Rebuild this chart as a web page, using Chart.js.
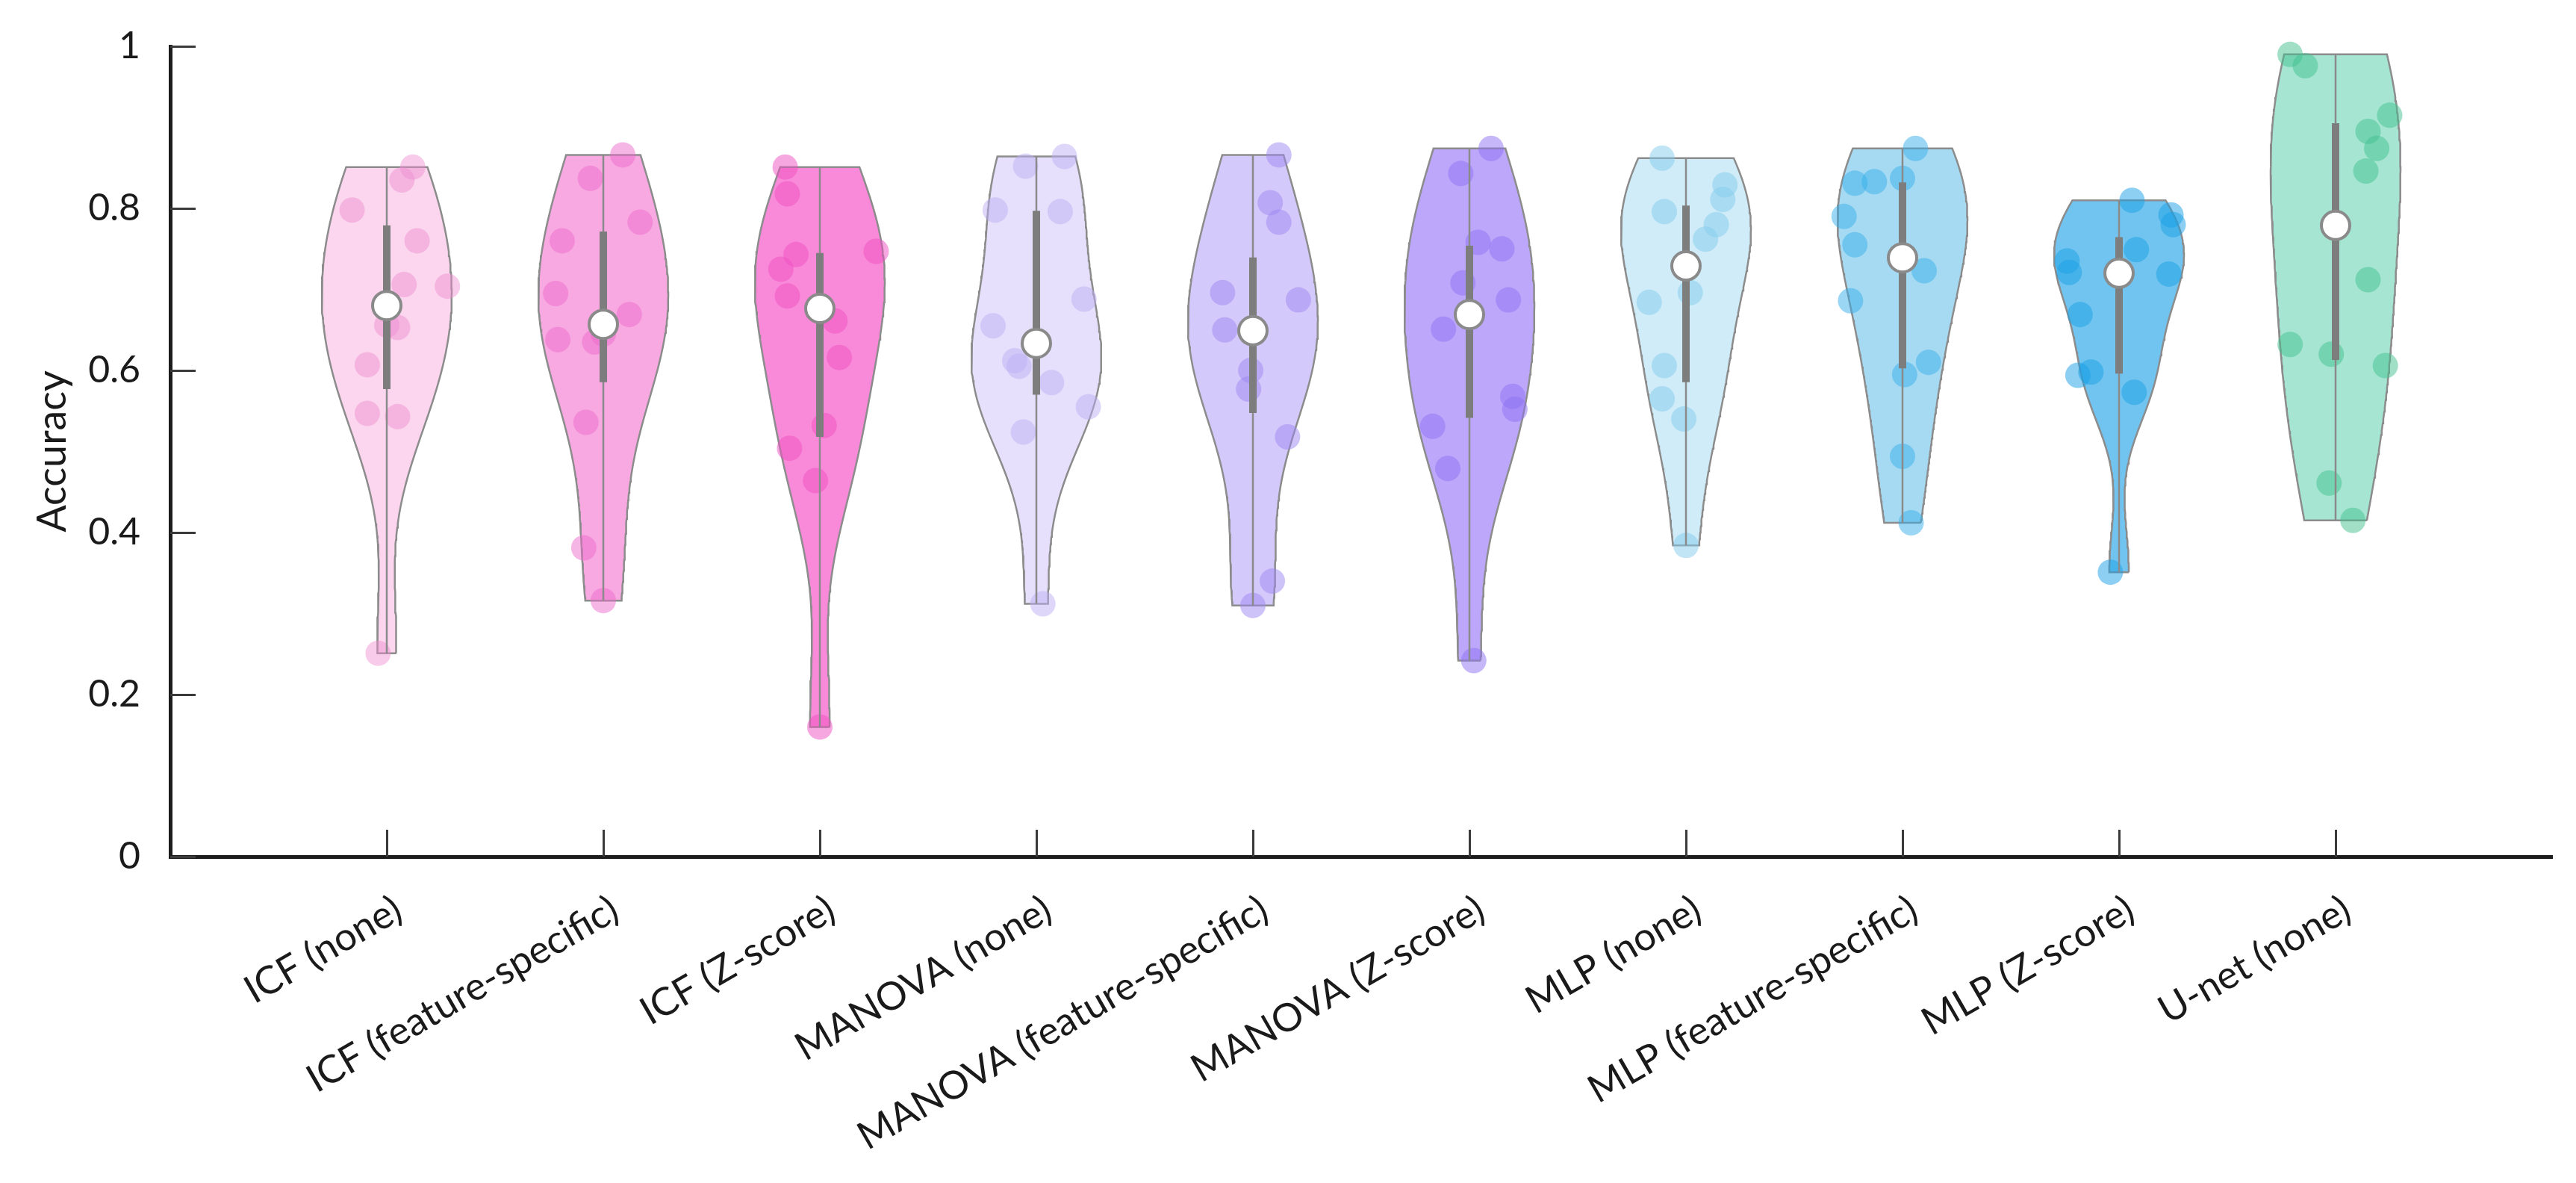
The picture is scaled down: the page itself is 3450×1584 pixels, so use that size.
<!DOCTYPE html>
<html>
<head>
<meta charset="utf-8">
<script src="https://cdn.jsdelivr.net/npm/chart.js@4.4.1/dist/chart.umd.min.js"></script>
<style>
html,body{margin:0;padding:0;background:#ffffff;}
#wrap{width:3450px;height:1584px;position:relative;}
</style>
</head>
<body>
<div id="wrap"><canvas id="c" width="3450" height="1584"></canvas></div>
<script>
// ---------- DATA ----------
const categories = ['ICF (none)', 'ICF (feature-specific)', 'ICF (Z-score)', 'MANOVA (none)',
  'MANOVA (feature-specific)', 'MANOVA (Z-score)', 'MLP (none)', 'MLP (feature-specific)',
  'MLP (Z-score)', 'U-net (none)'];
const yTickValues = [0, 0.2, 0.4, 0.6, 0.8, 1];
const yTickLabels = ['0', '0.2', '0.4', '0.6', '0.8', '1'];
const yAxisTitle = 'Accuracy';

// accuracy values per method (12 folds each)
const accIcfNone      = [0.851, 0.835, 0.798, 0.760, 0.706, 0.704, 0.656, 0.653, 0.607, 0.547, 0.543, 0.251];
const accIcfFeat      = [0.866, 0.837, 0.783, 0.760, 0.695, 0.669, 0.645, 0.638, 0.635, 0.536, 0.381, 0.316];
const accIcfZ         = [0.851, 0.818, 0.747, 0.743, 0.725, 0.692, 0.661, 0.616, 0.532, 0.504, 0.464, 0.160];
const accManovaNone   = [0.864, 0.852, 0.798, 0.796, 0.688, 0.655, 0.612, 0.605, 0.585, 0.555, 0.524, 0.312];
const accManovaFeat   = [0.866, 0.807, 0.783, 0.696, 0.687, 0.650, 0.648, 0.600, 0.577, 0.518, 0.340, 0.310];
const accManovaZ      = [0.874, 0.843, 0.758, 0.750, 0.708, 0.687, 0.651, 0.568, 0.552, 0.531, 0.479, 0.242];
const accMlpNone      = [0.862, 0.829, 0.811, 0.796, 0.780, 0.762, 0.696, 0.684, 0.606, 0.565, 0.540, 0.384];
const accMlpFeat      = [0.874, 0.837, 0.833, 0.831, 0.790, 0.755, 0.723, 0.686, 0.610, 0.595, 0.494, 0.412];
const accMlpZ         = [0.810, 0.792, 0.780, 0.749, 0.735, 0.721, 0.719, 0.669, 0.598, 0.594, 0.573, 0.351];
const accUnetNone     = [0.990, 0.976, 0.915, 0.895, 0.874, 0.846, 0.712, 0.632, 0.620, 0.606, 0.461, 0.415];

// horizontal jitter of each dot (category units)
const jitIcfNone      = [0.12, 0.07, -0.16, 0.14, 0.08, 0.28, 0.00, 0.05, -0.09, -0.09, 0.05, -0.04];
const jitIcfFeat      = [0.09, -0.06, 0.17, -0.19, -0.22, 0.12, 0.00, -0.21, -0.04, -0.08, -0.09, 0.00];
const jitIcfZ         = [-0.16, -0.15, 0.26, -0.11, -0.18, -0.15, 0.07, 0.09, 0.02, -0.14, -0.02, 0.00];
const jitManovaNone   = [0.13, -0.05, -0.19, 0.11, 0.22, -0.20, -0.10, -0.08, 0.07, 0.24, -0.06, 0.03];
const jitManovaFeat   = [0.12, 0.08, 0.12, -0.14, 0.21, -0.13, 0.00, -0.01, -0.02, 0.16, 0.09, 0.00];
const jitManovaZ      = [0.10, -0.04, 0.04, 0.15, -0.03, 0.18, -0.12, 0.20, 0.21, -0.17, -0.10, 0.02];
const jitMlpNone      = [-0.11, 0.18, 0.17, -0.10, 0.14, 0.09, 0.02, -0.17, -0.10, -0.11, -0.01, 0.00];
const jitMlpFeat      = [0.06, 0.00, -0.13, -0.22, -0.27, -0.22, 0.10, -0.24, 0.12, 0.01, 0.00, 0.04];
const jitMlpZ         = [0.06, 0.24, 0.25, 0.08, -0.24, -0.23, 0.23, -0.18, -0.13, -0.19, 0.07, -0.04];
const jitUnetNone     = [-0.21, -0.14, 0.25, 0.15, 0.19, 0.14, 0.15, -0.21, -0.02, 0.23, -0.03, 0.08];

// ---------- STYLE ----------
const groups = [accIcfNone, accIcfFeat, accIcfZ, accManovaNone, accManovaFeat, accManovaZ,
                accMlpNone, accMlpFeat, accMlpZ, accUnetNone];
const jitters = [jitIcfNone, jitIcfFeat, jitIcfZ, jitManovaNone, jitManovaFeat, jitManovaZ,
                 jitMlpNone, jitMlpFeat, jitMlpZ, jitUnetNone];
const fillColors = ['#fcd6ef', '#f9a9e2', '#f98ad9', '#e6e0fc', '#d4c9fb', '#bca7fa',
                    '#cfecf8', '#a6daf3', '#70c4ef', '#a5e5d1'];
const dotColors = ['rgba(238,140,207,0.45)', 'rgba(236,108,203,0.5)', 'rgba(239,79,194,0.5)',
                   'rgba(190,176,244,0.5)', 'rgba(158,135,241,0.5)', 'rgba(142,113,242,0.5)',
                   'rgba(131,204,236,0.5)', 'rgba(56,176,233,0.5)', 'rgba(26,160,229,0.5)',
                   'rgba(67,194,144,0.5)'];
const VIOLIN_WIDTH = 0.3;
const FONT = 'Lato, "Open Sans", "DejaVu Sans", sans-serif';

// ---------- STATISTICS ----------
function prctile(sorted, p) {
  const n = sorted.length;
  const pos = n * p + 0.5;
  if (pos <= 1) return sorted[0];
  if (pos >= n) return sorted[n - 1];
  const lo = Math.floor(pos);
  const f = pos - lo;
  return sorted[lo - 1] + f * (sorted[lo] - sorted[lo - 1]);
}
function violinOutline(vals, center) {
  const n = vals.length;
  const s = [...vals].sort((a, b) => a - b);
  const med = prctile(s, 0.5);
  const dev = vals.map(v => Math.abs(v - med)).sort((a, b) => a - b);
  const sig = prctile(dev, 0.5) / 0.6745;
  const bw = sig * Math.pow(4 / (3 * n), 0.2);
  const lo = s[0], hi = s[n - 1];
  const N = 120;
  const dens = [];
  for (let i = 0; i <= N; i++) {
    const y = lo + (hi - lo) * i / N;
    let d = 0;
    for (const v of vals) { const z = (y - v) / bw; d += Math.exp(-0.5 * z * z); }
    dens.push([y, d]);
  }
  const mx = Math.max(...dens.map(p => p[1]));
  const right = dens.map(([y, d]) => ({x: center + VIOLIN_WIDTH * d / mx, y}));
  const left = dens.map(([y, d]) => ({x: center - VIOLIN_WIDTH * d / mx, y})).reverse();
  return right.concat(left, [right[0]]);
}

// ---------- DATASETS ----------
const datasets = [];
groups.forEach((vals, gi) => {
  const c = gi + 1;
  const s = [...vals].sort((a, b) => a - b);
  const q1 = prctile(s, 0.25), q2 = prctile(s, 0.5), q3 = prctile(s, 0.75);
  datasets.push({
    label: categories[gi] + ' violin', data: violinOutline(vals, c), showLine: true,
    fill: 'shape', backgroundColor: fillColors[gi], borderColor: '#8c8c8c', borderWidth: 2.5,
    pointRadius: 0, tension: 0, order: 5, clip: false
  });
  datasets.push({
    label: categories[gi] + ' points', data: vals.map((v, i) => ({x: c + jitters[gi][i], y: v})),
    showLine: false, pointRadius: 17, pointBackgroundColor: dotColors[gi], pointBorderWidth: 0,
    pointBorderColor: 'rgba(0,0,0,0)', order: 4, clip: false
  });
  datasets.push({
    label: categories[gi] + ' range', data: [{x: c, y: s[0]}, {x: c, y: s[s.length - 1]}],
    showLine: true, borderColor: '#8a8a8a', borderWidth: 2.5, pointRadius: 0, order: 3, clip: false
  });
  datasets.push({
    label: categories[gi] + ' IQR', data: [{x: c, y: q1}, {x: c, y: q3}],
    showLine: true, borderColor: '#7d7d7d', borderWidth: 10, pointRadius: 0, order: 2, clip: false,
    borderCapStyle: 'butt'
  });
  datasets.push({
    label: categories[gi] + ' median', data: [{x: c, y: q2}],
    showLine: false, pointRadius: 19, pointBackgroundColor: '#ffffff', pointBorderColor: '#8a8a8a',
    pointBorderWidth: 4, order: 1, clip: false
  });
});

// ---------- INWARD TICKS ----------
const inwardTicks = {
  id: 'inwardTicks',
  afterDraw(chart) {
    const ctx = chart.ctx, xs = chart.scales.x, ys = chart.scales.y, a = chart.chartArea;
    ctx.save();
    ctx.strokeStyle = '#3a3a3a';
    ctx.lineWidth = 3;
    ctx.beginPath();
    ys.ticks.forEach(t => {
      const py = Math.round(ys.getPixelForValue(t.value)) + 0.5;
      ctx.moveTo(a.left, py); ctx.lineTo(a.left + 34, py);
    });
    xs.ticks.forEach(t => {
      const px = Math.round(xs.getPixelForValue(t.value)) + 0.5;
      ctx.moveTo(px, a.bottom); ctx.lineTo(px, a.bottom - 36);
    });
    ctx.stroke();
    ctx.restore();
  }
};

new Chart(document.getElementById('c'), {
  type: 'scatter',
  data: {datasets},
  options: {
    responsive: false,
    animation: false,
    events: [],
    layout: {padding: {top: 57, right: 32, left: 0, bottom: 0}},
    plugins: {legend: {display: false}, tooltip: {enabled: false}},
    scales: {
      x: {
        type: 'linear', min: 0, max: 11,
        afterBuildTicks: (sc) => { sc.ticks = categories.map((_, i) => ({value: i + 1})); },
        afterFit: (sc) => { sc.height = 437; },
        grid: {display: false},
        border: {display: true, color: '#1c1c1c', width: 5},
        ticks: {
          autoSkip: false, minRotation: 30, maxRotation: 30, padding: 32, labelOffset: 16,
          color: '#1a1a1a', font: {family: FONT, size: 52},
          callback: (v) => categories[Math.round(v) - 1] || ''
        }
      },
      y: {
        type: 'linear', min: 0, max: 1,
        afterBuildTicks: (sc) => { sc.ticks = yTickValues.map(v => ({value: v})); },
        afterFit: (sc) => { sc.width = 228; },
        grid: {display: false},
        border: {display: true, color: '#1c1c1c', width: 5},
        ticks: {
          padding: 32, color: '#1a1a1a', font: {family: FONT, size: 50},
          callback: (v) => { const i = yTickValues.findIndex(t => Math.abs(t - v) < 1e-9); return i >= 0 ? yTickLabels[i] : ''; }
        },
        title: {display: true, text: yAxisTitle, color: '#1a1a1a', font: {family: FONT, size: 54},
                padding: {top: 38, bottom: 0}}
      }
    }
  },
  plugins: [inwardTicks]
});
</script>
</body>
</html>
